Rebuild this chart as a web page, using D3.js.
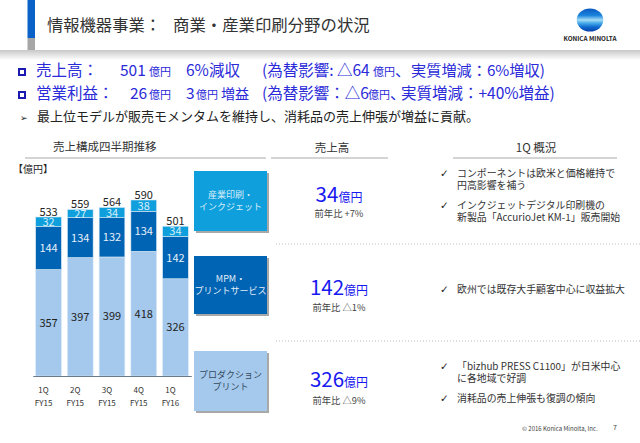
<!DOCTYPE html>
<html>
<head>
<meta charset="utf-8">
<script src="https://cdn.jsdelivr.net/npm/d3@7"></script>
<style>
html,body{margin:0;padding:0;background:#fff;}
text{font-family:"Noto Sans CJK JP","Noto Sans",sans-serif;}
</style>
</head>
<body>
<svg id="chart" width="640" height="443" style="display:block"></svg>
<script>
var quarters = ['1Q','2Q','3Q','4Q','1Q'];
var years = ['FY15','FY15','FY15','FY15','FY16'];
var production = [357,397,399,418,326];
var mpm = [144,134,132,134,142];
var inkjet = [32,27,34,38,34];
var totals = [533,559,564,590,501];

var segments = ['産業印刷・\nインクジェット','MPM・\nプリントサービス','プロダクション\nプリント'];
var segmentSales = ['34','142','326'];
var segmentYoy = ['前年比 +7%','前年比 △1%','前年比 △9%'];
var segmentColors = ['#0f9fdc','#0064b4','#a5c9ec'];
var segmentText = ['#d8eef9','#e4eef8','#34495e'];

var blue = '#2a2ad8';
var svg = d3.select('#chart');

// header
var defs = svg.append('defs');
var shade = defs.append('linearGradient').attr('id','shade').attr('x1',0).attr('x2',0).attr('y1',0).attr('y2',1);
shade.append('stop').attr('offset',0).attr('stop-color','#c8c8c8');
shade.append('stop').attr('offset',1).attr('stop-color','#ffffff');
var ball = defs.append('linearGradient').attr('id','ball').attr('x1',0).attr('x2',0).attr('y1',0).attr('y2',1);
[[0,'#0a58c0'],[0.3,'#1a84dc'],[0.5,'#a8dcf6'],[0.62,'#4fb0ea'],[0.8,'#0f6cd0'],[1,'#0a3fa8']].forEach(function(s){
  ball.append('stop').attr('offset',s[0]).attr('stop-color',s[1]);
});

svg.append('rect').attr('x',0).attr('y',50).attr('width',640).attr('height',10).attr('fill','url(#shade)');
svg.append('rect').attr('x',27.5).attr('y',0).attr('width',7.5).attr('height',38).attr('fill','#0a62c8');
svg.append('rect').attr('x',27.5).attr('y',38).attr('width',7.5).attr('height',12).attr('fill','#a6a6a6');
svg.append('text').attr('x',47).attr('y',31).attr('font-size',16.3).attr('fill','#333').text('情報機器事業：');
svg.append('text').attr('x',173).attr('y',31).attr('font-size',16.4).attr('fill','#333').text('商業・産業印刷分野の状況');

svg.append('ellipse').attr('cx',590).attr('cy',20).attr('rx',13.3).attr('ry',11.5).attr('fill','url(#ball)');
svg.append('text').attr('x',590).attr('y',41).attr('text-anchor','middle').attr('font-size',6.3).attr('font-weight',700).attr('fill','#222').text('KONICA MINOLTA');

// summary lines, [x, text, size]
var line1 = [[36,'売上高：',15.5],[120,'501',15.5],[149,'億円',11],[186,'6%減収',15.5],[262,'(為替影響: △64',15.5],[373,'億円',11],[395,'、',15.5],[411,'実質増減：6%増収)',15.2]];
var line2 = [[36,'営業利益：',15.5],[130,'26',15.5],[149,'億円',11],[186,'3',15.5],[196,'億円',11],[221,'増益',14],[262,'(為替影響：△6',15.5],[368,'億円',11],[390,'、',15.5],[401,'実質増減：+40%増益)',15.5]];
[[line1,76,68],[line2,99,91]].forEach(function(l){
  svg.append('rect').attr('x',19).attr('y',l[2]+1).attr('width',6).attr('height',6).attr('fill','none').attr('stroke','#1a1ab0').attr('stroke-width',2);
  l[0].forEach(function(p){
    svg.append('text').attr('x',p[0]).attr('y',l[1]).attr('font-size',p[2]).attr('fill',blue).text(p[1]);
  });
});
svg.append('text').attr('x',20).attr('y',121).attr('font-size',9).attr('style','font-family:"DejaVu Sans"').attr('fill','#222').text('➢');
svg.append('text').attr('x',37).attr('y',121).attr('font-size',13).attr('fill','#222').text('最上位モデルが販売モメンタムを維持し、消耗品の売上伸張が増益に貢献。');

// column heads
var heads = [['売上構成四半期推移',53,151,25,266,'start'],['売上高',332,152,271,388,'middle'],['1Q 概況',536,152,453,617,'middle']];
heads.forEach(function(h){
  svg.append('text').attr('x',h[1]).attr('y',h[2]).attr('text-anchor',h[5]).attr('font-size',11.5).attr('fill','#333').text(h[0]);
  svg.append('line').attr('x1',h[3]).attr('x2',h[4]).attr('y1',158).attr('y2',158).attr('stroke','#aaa').attr('stroke-width',1);
});
svg.append('text').attr('x',13).attr('y',173).attr('font-size',10).attr('fill','#222').text('【億円】');

// stacked bars
var x = d3.scaleBand().domain(d3.range(quarters.length)).range([33,191]).paddingInner(0.19).paddingOuter(0.085);
var y = d3.scaleLinear().domain([0,590]).range([376,200]);
var keys = ['production','mpm','inkjet'];
var rows = quarters.map(function(q,i){ return {i:i,production:production[i],mpm:mpm[i],inkjet:inkjet[i]}; });
var stack = d3.stack().keys(keys)(rows);
var fills = {production:'#a5c9ec',mpm:'#0064b4',inkjet:'#0f9fdc'};
var labelFill = {production:'#222',mpm:'#e8f0f8',inkjet:'#d8eef9'};

var layer = svg.selectAll('g.layer').data(stack).enter().append('g').attr('class','layer');
layer.selectAll('rect').data(function(d){ return d; }).enter().append('rect')
  .attr('x',function(d){ return x(d.data.i); })
  .attr('y',function(d){ return y(d[1]); })
  .attr('width',x.bandwidth())
  .attr('height',function(d){ return y(d[0]) - y(d[1]); })
  .attr('fill',function(d){ return fills[d3.select(this.parentNode).datum().key]; })
  .attr('stroke','#d8e8f6').attr('stroke-width',0.6);
layer.selectAll('text').data(function(d){ return d; }).enter().append('text')
  .attr('x',function(d){ return x(d.data.i) + x.bandwidth()/2; })
  .attr('y',function(d){ return (y(d[0]) + y(d[1]))/2 + 4; })
  .attr('text-anchor','middle').attr('font-size',11)
  .attr('fill',function(d){ return labelFill[d3.select(this.parentNode).datum().key]; })
  .text(function(d){ return d[1]-d[0]; });

svg.selectAll('text.total').data(totals).enter().append('text').attr('class','total')
  .attr('x',function(d,i){ return x(i) + x.bandwidth()/2; })
  .attr('y',function(d,i){ return y(production[i]+mpm[i]+inkjet[i]) - 1.5; })
  .attr('text-anchor','middle').attr('font-size',11).attr('fill','#222')
  .text(function(d){ return d; });

var axis = svg.append('g').attr('transform','translate(0,376)').call(d3.axisBottom(x).tickSize(1).tickFormat(function(){ return ''; }));
axis.select('.domain').attr('stroke','#6a7a8a');
axis.selectAll('.tick line').attr('stroke','#6a7a8a');
var tickG = svg.selectAll('g.q').data(quarters).enter().append('g').attr('class','q')
  .attr('transform',function(d,i){ return 'translate(' + (x(i) + x.bandwidth()/2 - 5) + ',0)'; });
tickG.append('text').attr('y',393).attr('text-anchor','middle').attr('font-size',8).attr('fill','#333').text(function(d){ return d; });
tickG.append('text').attr('y',406).attr('text-anchor','middle').attr('font-size',8).attr('fill','#333').text(function(d,i){ return years[i]; });

// segment boxes
var boxTop = [171,256,351];
var boxH = [60,58,60];
var boxText = [27,26,27];
segments.forEach(function(s,i){
  svg.append('rect').attr('x',196).attr('y',boxTop[i]+2).attr('width',73).attr('height',boxH[i]).attr('fill','#a8a8a8');
  svg.append('rect').attr('x',194).attr('y',boxTop[i]).attr('width',73).attr('height',boxH[i]).attr('fill',segmentColors[i]);
  s.split('\n').forEach(function(t,j){
    svg.append('text').attr('x',230.5).attr('y',boxTop[i]+boxText[i]+j*11.7).attr('text-anchor','middle').attr('font-size',9).attr('fill',segmentText[i]).text(t);
  });
});

// sales figures
var saleY = [202,295,387];
var yoyY = [217,310.5,403.5];
segmentSales.forEach(function(v,i){
  var t = svg.append('text').attr('x',339).attr('y',saleY[i]).attr('text-anchor','middle').attr('fill','#1818f0');
  t.append('tspan').attr('font-size',20.5).text(v);
  t.append('tspan').attr('font-size',12).text('億円');
  svg.append('text').attr('x',339).attr('y',yoyY[i]).attr('text-anchor','middle').attr('font-size',9.3).attr('fill','#444').text(segmentYoy[i]);
});

// dotted separators
[244,341].forEach(function(yy){
  svg.append('line').attr('x1',276).attr('x2',640).attr('y1',yy).attr('y2',yy).attr('stroke','#bbb').attr('stroke-dasharray','1 2');
});

// overview notes, [checkY, lines]
var notes = [
  [173,['コンポーネントは欧米と価格維持で','円高影響を補う']],
  [205,['インクジェットデジタル印刷機の','新製品「AccurioJet KM-1」販売開始']],
  [289,['欧州では既存大手顧客中心に収益拡大']],
  [366,['「bizhub PRESS C1100」が日米中心','に各地域で好調']],
  [398,['消耗品の売上伸張も復調の傾向']]
];
notes.forEach(function(n){
  svg.append('text').attr('x',440).attr('y',n[0]+4).attr('font-size',10.5).attr('font-weight',700).attr('style','font-family:"DejaVu Sans"').attr('fill','#222').text('✓');
  n[1].forEach(function(t,j){
    svg.append('text').attr('x',457).attr('y',n[0]+4+j*12).attr('font-size',9.9).attr('fill','#333').text(t);
  });
});

svg.append('text').attr('x',522).attr('y',430.5).attr('font-size',6).attr('fill','#444').text('© 2016 Konica Minolta, Inc.');
svg.append('text').attr('x',613).attr('y',430).attr('font-size',7).attr('fill','#444').text('7');
</script>
</body>
</html>
